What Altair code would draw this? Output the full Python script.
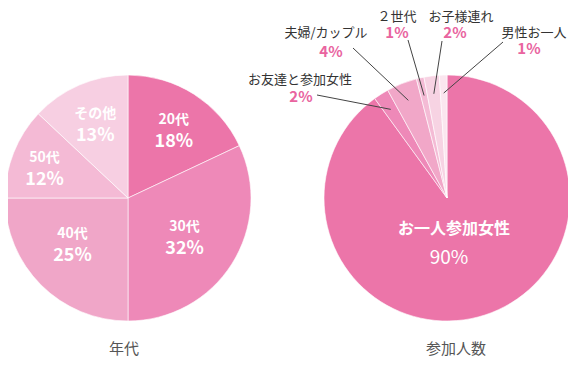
import math
import altair as alt
import pandas as pd

# ---------------- data ----------------
age_labels = ["20代", "30代", "40代", "50代", "その他"]
age_values = [18, 32, 25, 12, 13]
age_colors = ["#ec75a9", "#ee89b8", "#f0a6c8", "#f4bad5", "#f7cfe2"]

party_labels = ["お一人参加女性", "お友達と参加女性", "夫婦/カップル", "２世代", "お子様連れ", "男性お一人"]
party_values = [90, 2, 4, 1, 2, 1]
party_colors = ["#ec75a9", "#ee89b8", "#f1a7c8", "#f4bbd5", "#f7d3e3", "#fbe6ef"]

titles = ["年代", "参加人数"]

# ---------------- layout (page pixel space) ----------------
FONT = "Noto Sans CJK JP"
W, H = 560, 350
R = 123
LEFT_C = (128, 198)
RIGHT_C = (447, 198)
INNER_R = 80
# small nudges of the inner age labels (dx, dy)
age_nudge = [(3, 1), (-11, -3), (1, -10), (-9, 0), (-1, 0)]
# outer labels of the right pie: name pos, pct pos, leader start
outer_layout = {
    "お友達と参加女性": ((300, 80), (301, 97), (317, 95)),
    "夫婦/カップル": ((326, 33), (331, 52), (353, 48)),
    "２世代": ((397, 17), (397, 33), (408, 40)),
    "お子様連れ": ((461, 17), (455, 33), (442, 41)),
    "男性お一人": ((534, 33), (529, 49), (503, 42)),
}
main_layout = ((454, 229), (449, 258))
title_pos = [(124, 349), (456, 349)]
LEADER_R = 105

XS = alt.Scale(domain=[8, 8 + W], nice=False, zero=False)
YS = alt.Scale(domain=[8, 8 + H], nice=False, zero=False, reverse=True)


def mids(values):
    total = sum(values)
    acc = 0
    out = []
    for v in values:
        out.append((acc + v / 2) / total * 2 * math.pi)
        acc += v
    return out


def polar(c, r, a):
    return c[0] + r * math.sin(a), c[1] - r * math.cos(a)


def pie(labels, values, colors, center):
    df = pd.DataFrame({"label": labels, "value": values, "idx": range(len(labels))})
    return alt.Chart(df).mark_arc(outerRadius=R, stroke="#ffffff", strokeWidth=0.6).encode(
        theta=alt.Theta("value:Q", stack=True),
        color=alt.Color("label:N", scale=alt.Scale(domain=labels, range=colors), legend=None),
        order=alt.Order("idx:Q"),
        x=alt.value(center[0] - 8),
        y=alt.value(center[1] - 8),
    )


def text_layer(rows, **kw):
    df = pd.DataFrame(rows, columns=["x", "y", "t"])
    return alt.Chart(df).mark_text(font=FONT, align="center", baseline="middle", **kw).encode(
        x=alt.X("x:Q", scale=XS, axis=None),
        y=alt.Y("y:Q", scale=YS, axis=None),
        text="t:N",
    )


# left pie labels
age_name_rows, age_pct_rows = [], []
for lab, val, a, (ndx, ndy) in zip(age_labels, age_values, mids(age_values), age_nudge):
    x, y = polar(LEFT_C, INNER_R, a)
    x, y = x + ndx, y + ndy
    age_name_rows.append((x, y - 11, lab))
    age_pct_rows.append((x, y + 11, f"{val}%"))

# right pie labels
party_mid = mids(party_values)
out_name_rows, out_pct_rows, leader_rows = [], [], []
for lab, val, a in zip(party_labels[1:], party_values[1:], party_mid[1:]):
    (nx, ny), (px, py), (lx, ly) = outer_layout[lab]
    out_name_rows.append((nx, ny, lab))
    out_pct_rows.append((px, py, f"{val}%"))
    ex, ey = polar(RIGHT_C, LEADER_R, a)
    leader_rows.append((lx, ly, ex, ey))

leaders = alt.Chart(pd.DataFrame(leader_rows, columns=["x", "y", "x2", "y2"])).mark_rule(
    color="#444444", strokeWidth=1
).encode(
    x=alt.X("x:Q", scale=XS, axis=None),
    y=alt.Y("y:Q", scale=YS, axis=None),
    x2="x2:Q",
    y2="y2:Q",
)

layers = [
    pie(age_labels, age_values, age_colors, LEFT_C),
    pie(party_labels, party_values, party_colors, RIGHT_C),
    leaders,
    text_layer(age_name_rows, fontSize=14, fontWeight="bold", color="#ffffff"),
    text_layer(age_pct_rows, fontSize=18, fontWeight="bold", color="#ffffff"),
    text_layer([(main_layout[0][0], main_layout[0][1], party_labels[0])], fontSize=16, fontWeight="bold", color="#ffffff"),
    text_layer([(main_layout[1][0], main_layout[1][1], f"{party_values[0]}%")], fontSize=19, fontWeight="normal", color="#ffffff"),
    text_layer(out_name_rows, fontSize=13, fontWeight="normal", color="#333333"),
    text_layer(out_pct_rows, fontSize=15, fontWeight="bold", color="#e9649f"),
    text_layer([(p[0], p[1], t) for p, t in zip(title_pos, titles)], fontSize=15, fontWeight="normal", color="#555555"),
]

chart = alt.layer(*layers).resolve_scale(
    theta="independent", color="independent"
).properties(
    width=W, height=H, padding=0, autosize="none", background="#ffffff"
).configure_view(stroke=None)

chart.save("out.html", embed_options={"renderer": "svg", "actions": False})
